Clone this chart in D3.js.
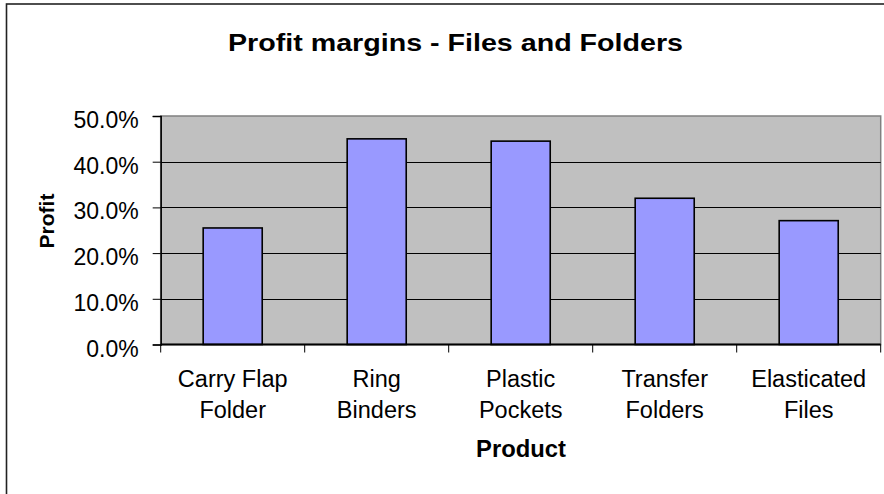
<!DOCTYPE html>
<html>
<head>
<meta charset="utf-8">
<script src="https://cdn.jsdelivr.net/npm/d3@7"></script>
<style>
  body { margin: 0; background: #fff; }
  text { font-family: "Liberation Sans", Arial, sans-serif; fill: #000; }
</style>
</head>
<body>
<div id="chart"></div>
<script>
var products = ["Carry Flap|Folder", "Ring|Binders", "Plastic|Pockets", "Transfer|Folders", "Elasticated|Files"];
var profits = [0.255, 0.450, 0.445, 0.320, 0.271];
var yTicks = [0, 0.1, 0.2, 0.3, 0.4, 0.5];

var w = 884,
  h = 494,
  plotLeft = 160.7,
  plotRight = 880.7,
  plotTop = 116,
  plotBottom = 344.5;

var svg = d3.select("#chart").append("svg")
      .attr("width", w)
      .attr("height", h);

// outer chart border (cropped on right/bottom)
svg.append("rect")
  .attr("x", 6.5)
  .attr("y", 4)
  .attr("width", 1000)
  .attr("height", 700)
  .attr("fill", "#fff")
  .attr("stroke", "#222")
  .attr("stroke-width", 1.6);

var x = d3.scaleBand()
  .domain(products)
  .range([plotLeft, plotRight])
  .paddingInner(0.59)
  .paddingOuter(0.295);

var y = d3.scaleLinear()
  .domain([0, 0.5])
  .range([plotBottom, plotTop]);

// plot area
svg.append("rect")
  .attr("x", plotLeft)
  .attr("y", plotTop)
  .attr("width", plotRight - plotLeft)
  .attr("height", plotBottom - plotTop)
  .attr("fill", "#c0c0c0")
  .attr("stroke", "#808080")
  .attr("stroke-width", 1.5);

// gridlines
svg.append("g")
  .selectAll("line")
  .data(yTicks.filter(function(d){ return d > 0 && d < 0.5; }))
  .enter().append("line")
    .attr("x1", plotLeft)
    .attr("x2", plotRight)
    .attr("y1", function(d){ return Math.round(y(d)) + 0.5; })
    .attr("y2", function(d){ return Math.round(y(d)) + 0.5; })
    .attr("stroke", "#000")
    .attr("stroke-width", 1);

// bars
svg.append("g")
  .selectAll("rect")
  .data(profits)
  .enter().append("rect")
    .attr("x", function(d, i){ return x(products[i]); })
    .attr("y", function(d){ return y(d); })
    .attr("width", x.bandwidth())
    .attr("height", function(d){ return plotBottom - y(d); })
    .attr("fill", "#9999ff")
    .attr("stroke", "#000")
    .attr("stroke-width", 1.6);

// y axis
var yAxis = svg.append("g")
  .attr("transform", "translate(" + plotLeft + ",0)")
  .call(d3.axisLeft(y).tickValues(yTicks).tickSize(8).tickPadding(14).tickFormat(d3.format(".1%")));
yAxis.select(".domain").attr("stroke", "#000").attr("stroke-width", 1.5);
yAxis.selectAll(".tick line").attr("stroke", "#000");
yAxis.selectAll(".tick text")
  .style("font-size", "23px")
  .style("font-family", "'Liberation Sans', Arial, sans-serif")
  .attr("fill", "#000")
  .attr("dy", "0.5em");

// x axis
var xAxis = svg.append("g")
  .attr("transform", "translate(0," + plotBottom + ")");
xAxis.append("line")
  .attr("x1", plotLeft).attr("x2", plotRight)
  .attr("stroke", "#000").attr("stroke-width", 2);
xAxis.selectAll(".tk")
  .data(d3.range(products.length + 1))
  .enter().append("line")
    .attr("x1", function(i){ return plotLeft + i * x.step(); })
    .attr("x2", function(i){ return plotLeft + i * x.step(); })
    .attr("y1", 0).attr("y2", 8)
    .attr("stroke", "#000").attr("stroke-width", 1);

var lbl = xAxis.selectAll(".lbl")
  .data(products)
  .enter().append("text")
    .attr("x", function(d){ return x(d) + x.bandwidth() / 2; })
    .attr("y", 42)
    .attr("text-anchor", "middle")
    .style("font-size", "23.5px");
lbl.each(function(d){
  var parts = d.split("|");
  d3.select(this).selectAll("tspan")
    .data(parts)
    .enter().append("tspan")
      .attr("x", x(d) + x.bandwidth() / 2)
      .attr("dy", function(p, j){ return j ? 31.7 : 0; })
      .text(function(p){ return p; });
});

// titles
svg.append("text")
  .attr("x", 455.5)
  .attr("y", 51)
  .attr("text-anchor", "middle")
  .style("font-size", "24px")
  .style("font-weight", "bold")
  .attr("textLength", 455)
  .attr("lengthAdjust", "spacingAndGlyphs")
  .text("Profit margins - Files and Folders");

svg.append("text")
  .attr("x", 521)
  .attr("y", 457)
  .attr("text-anchor", "middle")
  .style("font-size", "23.8px")
  .style("font-weight", "bold")
  .text("Product");

svg.append("text")
  .attr("transform", "translate(54,221) rotate(-90)")
  .attr("text-anchor", "middle")
  .style("font-size", "21px")
  .style("font-weight", "bold")
  .text("Profit");
</script>
</body>
</html>
